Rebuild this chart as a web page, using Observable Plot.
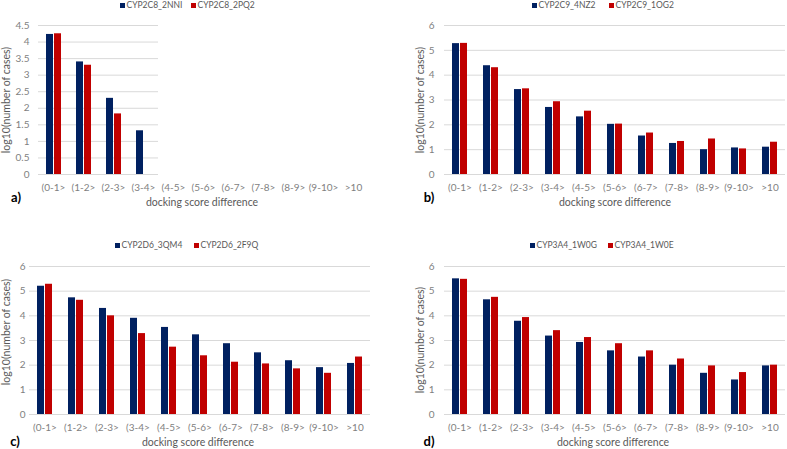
<!DOCTYPE html>
<html>
<head>
<meta charset="utf-8">
<script src="https://cdn.jsdelivr.net/npm/d3@7"></script>
<script src="https://cdn.jsdelivr.net/npm/@observablehq/plot@0.6"></script>
<style>
  html, body { margin: 0; padding: 0; background: #fff; }
  #root { position: relative; width: 787px; height: 449px; overflow: hidden; background: #fff; font-family: Lato, "Open Sans", sans-serif; color: #595959; }
  .abs { position: absolute; white-space: nowrap; }
  .leg { font-size: 8.5px; line-height: 10px; display: flex; align-items: center; }
  .sw { width: 5px; height: 5px; margin-right: 1.5px; display: inline-block; }
  .ytitle { font-size: 10.5px; transform: translate(-50%, -50%) rotate(-90deg); }
  .xtitle { font-size: 10.5px; transform: translate(-50%, -50%); }
  .letter { font-size: 13px; font-weight: bold; color: #000; transform: translate(-50%, -50%); }
  svg { position: absolute; }
</style>
</head>
<body>
<div id="root"></div>
<script>
// ---- data ----
const categories = ["(0-1>","(1-2>","(2-3>","(3-4>","(4-5>","(5-6>","(6-7>","(7-8>","(8-9>","(9-10>",">10"];
const colors = ["#002060", "#C00000"];

const seriesA = ["CYP2C8_2NNI", "CYP2C8_2PQ2"];
const a_2NNI = [4.23, 3.40, 2.30, 1.32, null, null, null, null, null, null, null];
const a_2PQ2 = [4.25, 3.30, 1.83, null, null, null, null, null, null, null, null];

const seriesB = ["CYP2C9_4NZ2", "CYP2C9_1OG2"];
const b_4NZ2 = [5.27, 4.38, 3.42, 2.70, 2.32, 2.02, 1.55, 1.25, 1.00, 1.07, 1.10];
const b_1OG2 = [5.28, 4.30, 3.45, 2.93, 2.55, 2.03, 1.67, 1.33, 1.43, 1.03, 1.30];

const seriesC = ["CYP2D6_3QM4", "CYP2D6_2F9Q"];
const c_3QM4 = [5.20, 4.73, 4.30, 3.90, 3.53, 3.23, 2.87, 2.50, 2.18, 1.90, 2.07];
const c_2F9Q = [5.28, 4.63, 4.00, 3.28, 2.73, 2.38, 2.12, 2.05, 1.85, 1.67, 2.33];

const seriesD = ["CYP3A4_1W0G", "CYP3A4_1W0E"];
const d_1W0G = [5.50, 4.65, 3.78, 3.18, 2.92, 2.58, 2.33, 2.00, 1.67, 1.40, 1.97];
const d_1W0E = [5.48, 4.75, 3.93, 3.40, 3.12, 2.87, 2.58, 2.25, 1.97, 1.70, 2.00];

const ticksA = [0, 0.5, 1, 1.5, 2, 2.5, 3, 3.5, 4, 4.5];
const ticks6 = [0, 1, 2, 3, 4, 5, 6];

const xTitle = "docking score difference";
const yTitle = "log10(number of cases)";

// ---- layout ----
const panels = [
  {letter: "a)", series: seriesA, values: [a_2NNI, a_2PQ2], ticks: ticksA, ymax: 4.5,
   left: 0, top: 0, width: 393, height: 215, mt: 25, mb: 41, ml: 36, mr: 23, tp: 9,
   leg: [[120, 5], [191, 5]], yt: [6, 100], xt: [202, 202], lt: [16, 197]},
  {letter: "b)", series: seriesB, values: [b_4NZ2, b_1OG2], ticks: ticks6, ymax: 6,
   left: 395, top: 0, width: 392, height: 215, mt: 25, mb: 41, ml: 47, mr: 1, tp: 10,
   leg: [[532, 5], [609, 5]], yt: [420, 100], xt: [615, 202], lt: [429, 197]},
  {letter: "c)", series: seriesC, values: [c_3QM4, c_2F9Q], ticks: ticks6, ymax: 6,
   left: 0, top: 225, width: 393, height: 224, mt: 41, mb: 35, ml: 28, mr: 23, tp: 4,
   leg: [[115, 245], [194, 245]], yt: [6, 332], xt: [198, 442], lt: [15, 441]},
  {letter: "d)", series: seriesD, values: [d_1W0G, d_1W0E], ticks: ticks6, ymax: 6,
   left: 395, top: 225, width: 392, height: 224, mt: 41, mb: 35, ml: 47, mr: 1, tp: 10,
   leg: [[530, 245], [608, 245]], yt: [420, 340], xt: [613, 442], lt: [429, 441]}
];

const root = document.getElementById("root");

function addDiv(cls, x, y, html) {
  const d = document.createElement("div");
  d.className = "abs " + cls;
  d.style.left = x + "px";
  d.style.top = y + "px";
  d.innerHTML = html;
  root.appendChild(d);
  return d;
}

for (const p of panels) {
  const data = [];
  p.series.forEach((s, si) => {
    categories.forEach((c, ci) => {
      data.push({cat: c, series: s, value: p.values[si][ci]});
    });
  });

  const chart = Plot.plot({
    width: p.width,
    height: p.height,
    marginTop: p.mt,
    marginBottom: p.mb,
    marginLeft: p.ml,
    marginRight: p.mr,
    style: {fontFamily: "Lato, 'Open Sans', sans-serif", fontSize: "10px", color: "#7f7f7f", background: "transparent", overflow: "visible"},
    fx: {domain: categories, paddingInner: 0, paddingOuter: 0, label: null, tickSize: 0, tickPadding: 9, axis: "bottom"},
    x: {domain: p.series, axis: null, paddingInner: 0.15, paddingOuter: 0.85},
    y: {domain: [0, p.ymax], ticks: p.ticks, tickFormat: d => String(d), label: null, tickSize: 0, tickPadding: p.tp, grid: false},
    color: {domain: p.series, range: colors},
    marks: [
      Plot.ruleY(p.ticks, {stroke: "#d9d9d9", strokeWidth: 1}),
      Plot.barY(data.filter(d => d.value != null), {fx: "cat", x: "series", y: "value", fill: "series"})
    ]
  });
  chart.style.left = p.left + "px";
  chart.style.top = p.top + "px";
  root.appendChild(chart);

  // legend
  p.series.forEach((s, i) => {
    addDiv("leg", p.leg[i][0], p.leg[i][1] - 5,
      `<span class="sw" style="background:${colors[i]}"></span><span>${s}</span>`);
  });
  addDiv("ytitle", p.yt[0], p.yt[1], yTitle);
  addDiv("xtitle", p.xt[0], p.xt[1], xTitle);
  addDiv("letter", p.lt[0], p.lt[1], p.letter);
}
</script>
</body>
</html>
